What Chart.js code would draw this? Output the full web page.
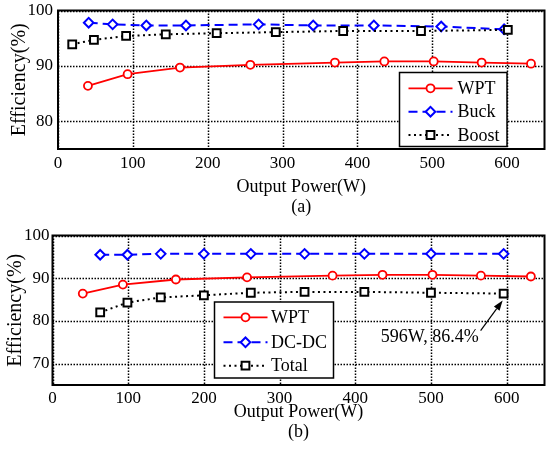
<!DOCTYPE html>
<html>
<head>
<meta charset="utf-8">
<title>Efficiency vs Output Power</title>
<script src="https://cdn.jsdelivr.net/npm/chart.js@4.4.1/dist/chart.umd.min.js"></script>
<style>
  body { margin: 0; background: #fff; }
  .panel { position: relative; width: 552px; height: 228px; }
</style>
</head>
<body>
<div class="panel"><canvas id="chartA"></canvas></div>
<div class="panel"><canvas id="chartB"></canvas></div>
<script>
// (a) converter stages
const wptPower = [40, 93, 163, 257, 370, 436, 502, 566, 632];
const wptEff = [86.4, 88.5, 89.7, 90.2, 90.6, 90.8, 90.8, 90.6, 90.4];
const buckPower = [41, 73, 118, 171, 268, 341, 422, 512, 596];
const buckEff = [97.8, 97.5, 97.3, 97.3, 97.5, 97.3, 97.3, 97.1, 96.6];
const boostPower = [19, 48, 91, 144, 212, 291, 381, 485, 601];
const boostEff = [93.9, 94.7, 95.4, 95.7, 95.9, 96.1, 96.3, 96.3, 96.5];

// (b) system totals
const dcdcPower = [63, 99, 143, 200, 262, 333, 412, 500, 596];
const dcdcEff = [95.5, 95.5, 95.7, 95.7, 95.7, 95.7, 95.7, 95.7, 95.7];
const totalPower = [63, 99, 143, 200, 262, 333, 412, 500, 596];
const totalEff = [82.0, 84.3, 85.5, 86.0, 86.6, 86.8, 86.8, 86.6, 86.4];

const xTicks = [0, 100, 200, 300, 400, 500, 600];
const yTicksA = [80, 90, 100];
const yTicksB = [70, 80, 90, 100];

const serif = '"Liberation Serif", "Times New Roman", serif';

const styles = {
  wpt: { borderColor: '#ff0000', borderWidth: 1.8, pointStyle: 'circle', pointRadius: 4, pointBorderWidth: 1.8, order: 2 },
  buck: { borderColor: '#0000ff', borderWidth: 2, borderDash: [9, 5], pointStyle: 'rectRot', pointRadius: 4.8, pointBorderWidth: 2, order: 1 },
  boost: { borderColor: '#000000', borderWidth: 2, borderDash: [2, 3.5], pointStyle: 'rect', pointRadius: 5.5, pointBorderWidth: 2, order: 0 }
};

function series(label, xs, ys, style) {
  return Object.assign({
    label: label,
    data: xs.map((x, i) => ({ x: x, y: ys[i] })),
    showLine: true,
    fill: false,
    pointBackgroundColor: '#ffffff',
    pointHoverRadius: style.pointRadius
  }, style, { pointBorderColor: style.borderColor });
}

// dotted grid lines at every tick of both axes, under the data
const tickGrid = {
  id: 'tickGrid',
  beforeDatasetsDraw(chart) {
    const { ctx, chartArea: a } = chart;
    const { x, y } = chart.scales;
    ctx.save();
    ctx.strokeStyle = '#000';
    ctx.lineWidth = 1.5;
    ctx.setLineDash([1.5, 1.5]);
    ctx.beginPath();
    xTicks.forEach(v => {
      const px = Math.round(x.getPixelForValue(v)) + 0.5;
      ctx.moveTo(px, a.top);
      ctx.lineTo(px, a.bottom);
    });
    y.ticks.forEach(t => {
      const py = Math.round(y.getPixelForValue(t.value)) + 0.5;
      ctx.moveTo(a.left, py);
      ctx.lineTo(a.right, py);
    });
    ctx.stroke();
    ctx.restore();
  }
};

// black box around the plot area
const frame = {
  id: 'frame',
  afterDraw(chart) {
    const { ctx, chartArea: a } = chart;
    ctx.save();
    ctx.strokeStyle = '#000';
    ctx.lineWidth = 2;
    ctx.strokeRect(a.left, a.top, a.right - a.left, a.bottom - a.top);
    ctx.restore();
  }
};

// legend box drawn inside the axes, line sample with marker in the middle
const boxLegend = {
  id: 'boxLegend',
  afterDatasetsDraw(chart, args, opts) {
    if (!opts.box) return;
    const { ctx } = chart;
    const b = opts.box;
    ctx.save();
    ctx.fillStyle = '#fff';
    ctx.fillRect(b.x, b.y, b.w, b.h);
    ctx.strokeStyle = '#000';
    ctx.lineWidth = 1.5;
    ctx.strokeRect(b.x, b.y, b.w, b.h);
    chart.data.datasets.forEach((ds, i) => {
      const ry = opts.rows[i];
      ctx.strokeStyle = ds.borderColor;
      ctx.lineWidth = ds.borderWidth;
      ctx.setLineDash(ds.borderDash || []);
      ctx.beginPath();
      ctx.moveTo(opts.line[0], ry);
      ctx.lineTo(opts.line[1], ry);
      ctx.stroke();
      ctx.setLineDash([]);
      ctx.fillStyle = '#fff';
      ctx.lineWidth = ds.pointBorderWidth;
      Chart.helpers.drawPoint(ctx, {
        pointStyle: ds.pointStyle, radius: ds.pointRadius,
        borderWidth: ds.pointBorderWidth, rotation: 0
      }, (opts.line[0] + opts.line[1]) / 2, ry);
      ctx.fillStyle = '#000';
      ctx.font = '18px ' + serif;
      ctx.textBaseline = 'middle';
      ctx.textAlign = 'left';
      ctx.fillText(ds.label, opts.textX, ry + 1);
    });
    ctx.restore();
  }
};

// arrow pointing at one data point, with its value written below
const callout = {
  id: 'callout',
  afterDatasetsDraw(chart, args, opts) {
    if (!opts.text) return;
    const { ctx } = chart;
    const px = chart.scales.x.getPixelForValue(opts.x);
    const py = chart.scales.y.getPixelForValue(opts.y);
    const hx = px - 1, hy = py + 7;
    const tx = px - 23, ty = py + 37;
    const ang = Math.atan2(hy - ty, hx - tx);
    const len = 10, half = 3.5;
    const bx = hx - len * Math.cos(ang), by = hy - len * Math.sin(ang);
    ctx.save();
    ctx.strokeStyle = '#000';
    ctx.fillStyle = '#000';
    ctx.lineWidth = 1.2;
    ctx.beginPath();
    ctx.moveTo(tx, ty);
    ctx.lineTo(bx, by);
    ctx.stroke();
    ctx.beginPath();
    ctx.moveTo(hx, hy);
    ctx.lineTo(bx + half * Math.sin(ang), by - half * Math.cos(ang));
    ctx.lineTo(bx - half * Math.sin(ang), by + half * Math.cos(ang));
    ctx.closePath();
    ctx.fill();
    ctx.font = '18px ' + serif;
    ctx.textAlign = 'right';
    ctx.textBaseline = 'middle';
    ctx.fillText(opts.text, px - 25, py + 44);
    ctx.restore();
  }
};

function makeChart(id, datasets, cfg) {
  return new Chart(document.getElementById(id), {
    type: 'scatter',
    data: { datasets: datasets },
    options: {
      animation: false,
      responsive: true,
      maintainAspectRatio: false,
      layout: { padding: { top: cfg.top, right: -2, left: 0, bottom: 0 } },
      plugins: {
        legend: { display: false },
        tooltip: { enabled: false },
        boxLegend: cfg.legend,
        callout: cfg.callout || {}
      },
      scales: {
        x: {
          type: 'linear', min: 0, max: 650,
          afterBuildTicks: s => { s.ticks = xTicks.map(v => ({ value: v })); },
          afterFit: s => { s.height = cfg.xHeight; s.paddingLeft = 0; s.paddingRight = 0; },
          grid: { display: false, drawTicks: false },
          border: { display: false },
          ticks: { color: '#000', font: { family: serif, size: 17 }, padding: cfg.xTickPad, maxRotation: 0 },
          title: {
            display: true, text: ['Output Power(W)', cfg.tag], color: '#000',
            font: { family: serif, size: 18, lineHeight: '20px' },
            padding: { top: 0, bottom: cfg.xTitlePad }
          }
        },
        y: {
          type: 'linear', min: cfg.yMin, max: 100,
          afterBuildTicks: s => { s.ticks = cfg.yTicks.map(v => ({ value: v })); },
          afterFit: s => { s.width = cfg.yWidth; s.paddingTop = 0; s.paddingBottom = 0; },
          grid: { display: false, drawTicks: false },
          border: { display: false },
          ticks: { color: '#000', font: { family: serif, size: 17 }, padding: cfg.yTickPad },
          title: {
            display: true, text: 'Efficiency(%)', color: '#000',
            font: { family: serif, size: 20 },
            padding: { top: cfg.yTitlePad, bottom: 0 }
          }
        }
      }
    },
    plugins: [tickGrid, frame, boxLegend, callout]
  });
}

makeChart('chartA', [
  series('WPT', wptPower, wptEff, styles.wpt),
  series('Buck', buckPower, buckEff, styles.buck),
  series('Boost', boostPower, boostEff, styles.boost)
], {
  tag: '(a)', top: 10.5, yMin: 75, yTicks: yTicksA, yWidth: 58, yTickPad: 5, yTitlePad: 8,
  xHeight: 79, xTickPad: 4, xTitlePad: 11,
  legend: { box: { x: 399.5, y: 72.5, w: 107.5, h: 74 }, rows: [88.3, 111.7, 135], line: [408.5, 452.5], textX: 457.5 }
});

makeChart('chartB', [
  series('WPT', wptPower, wptEff, styles.wpt),
  series('DC-DC', dcdcPower, dcdcEff, styles.buck),
  series('Total', totalPower, totalEff, styles.boost)
], {
  tag: '(b)', top: 6.7, yMin: 65, yTicks: yTicksB, yWidth: 52.5, yTickPad: 3, yTitlePad: 4,
  xHeight: 71, xTickPad: 3, xTitlePad: 14,
  legend: { box: { x: 214.5, y: 74, w: 119, h: 76 }, rows: [89.3, 114.3, 137.7], line: [223.5, 267.5], textX: 271 },
  callout: { x: 596, y: 86.4, text: '596W, 86.4%' }
});
</script>
</body>
</html>
